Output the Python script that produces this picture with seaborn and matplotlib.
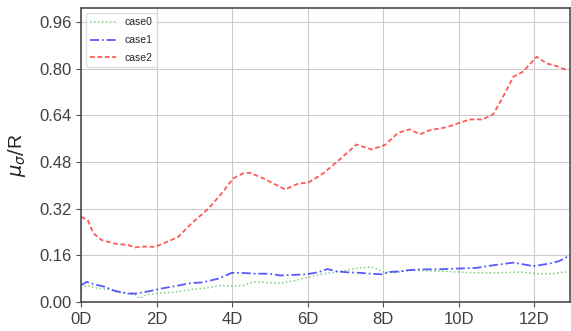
import matplotlib
matplotlib.use("Agg")
import matplotlib.pyplot as plt
import seaborn as sns
import pandas as pd

# case0: dotted green curve
x_case0 = [0.00, 0.15, 0.37, 0.72, 1.08, 1.43, 1.56, 1.74, 2.13, 2.49, 2.93, 3.37,
           3.72, 4.07, 4.29, 4.57, 4.91, 5.26, 5.62, 5.97, 6.32, 6.67, 7.03, 7.38,
           7.69, 8.00, 8.36, 8.66, 9.44, 10.47, 11.08, 11.61, 12.06, 12.50, 12.80, 12.90]
y_case0 = [0.046, 0.057, 0.049, 0.043, 0.031, 0.026, 0.012, 0.025, 0.031, 0.034, 0.043, 0.049,
           0.057, 0.054, 0.057, 0.069, 0.067, 0.064, 0.072, 0.084, 0.094, 0.101, 0.109, 0.117,
           0.120, 0.103, 0.101, 0.109, 0.106, 0.100, 0.100, 0.103, 0.097, 0.097, 0.103, 0.103]

# case1: dash-dot blue curve
x_case1 = [0.00, 0.15, 0.37, 0.63, 0.90, 1.25, 1.46, 1.77, 2.12, 2.47, 2.92, 3.19,
           3.37, 3.63, 3.99, 4.25, 4.60, 5.00, 5.26, 5.62, 5.97, 6.28, 6.52, 6.76,
           7.03, 7.38, 7.65, 7.96, 8.17, 8.44, 8.66, 8.97, 9.44, 10.04, 10.47, 10.91,
           11.44, 11.97, 12.41, 12.67, 12.82, 12.90]
y_case1 = [0.057, 0.069, 0.060, 0.052, 0.038, 0.029, 0.029, 0.036, 0.046, 0.054, 0.065, 0.067,
           0.072, 0.080, 0.100, 0.100, 0.097, 0.097, 0.091, 0.093, 0.095, 0.102, 0.113, 0.105,
           0.102, 0.100, 0.097, 0.095, 0.103, 0.105, 0.109, 0.112, 0.112, 0.115, 0.117, 0.126,
           0.135, 0.123, 0.132, 0.141, 0.152, 0.157]

# case2: dashed red curve
x_case2 = [0.00, 0.18, 0.33, 0.55, 0.90, 1.25, 1.43, 1.61, 1.96, 2.22, 2.57, 2.92,
           3.37, 3.72, 4.03, 4.29, 4.47, 4.82, 5.40, 5.75, 6.01, 6.41, 6.76, 7.29,
           7.69, 8.04, 8.39, 8.70, 8.97, 9.23, 9.67, 10.03, 10.29, 10.64, 10.91, 11.17,
           11.44, 11.70, 12.06, 12.32, 12.58, 12.80, 12.90]
y_case2 = [0.292, 0.280, 0.235, 0.212, 0.200, 0.195, 0.187, 0.190, 0.189, 0.203, 0.223, 0.269,
           0.320, 0.372, 0.424, 0.441, 0.443, 0.424, 0.386, 0.406, 0.409, 0.441, 0.479, 0.540,
           0.523, 0.538, 0.580, 0.592, 0.575, 0.589, 0.599, 0.615, 0.626, 0.626, 0.644, 0.704,
           0.772, 0.790, 0.841, 0.818, 0.809, 0.798, 0.797]

x_ticks = [0, 2, 4, 6, 8, 10, 12]
x_tick_labels = ["0D", "2D", "4D", "6D", "8D", "10D", "12D"]
y_ticks = [0.00, 0.16, 0.32, 0.48, 0.64, 0.80, 0.96]

sns.set_style("whitegrid", {
    "axes.edgecolor": "0.3",
    "grid.color": "0.8",
    "xtick.bottom": True,
    "ytick.left": True,
})
plt.rcParams["font.family"] = ["Liberation Sans", "DejaVu Sans"]
plt.rcParams["xtick.major.size"] = 3.5
plt.rcParams["ytick.major.size"] = 3.5
plt.rcParams["xtick.color"] = "0.3"
plt.rcParams["ytick.color"] = "0.3"

frames = []
for name, xs, ys in [("case0", x_case0, y_case0),
                     ("case1", x_case1, y_case1),
                     ("case2", x_case2, y_case2)]:
    frames.append(pd.DataFrame({"x": xs, "y": ys, "case": name}))
df = pd.concat(frames, ignore_index=True)

fig = plt.figure(figsize=(5.71, 3.31), dpi=100)
ax = fig.add_axes([81 / 571, 29 / 331, 489 / 571, 294 / 331])

styles = {
    "case0": dict(color="#33aa33", linestyle=(0, (1, 1.6)), alpha=0.6, linewidth=1.1),
    "case1": dict(color="#0000ff", linestyle=(0, (5, 1.6, 1, 1.6)), alpha=0.65, linewidth=1.3),
    "case2": dict(color="#ff0000", linestyle=(0, (2.6, 1.5)), alpha=0.65, linewidth=1.3),
}
for name in ["case0", "case1", "case2"]:
    sub = df[df["case"] == name]
    sns.lineplot(data=sub, x="x", y="y", ax=ax, label=name, **styles[name])

ax.set_xlim(0, 12.94)
ax.set_ylim(0, 1.008)
ax.set_xticks(x_ticks)
ax.set_xticklabels(x_tick_labels)
ax.set_yticks(y_ticks)
ax.set_yticklabels([f"{v:.2f}" for v in y_ticks])
ax.tick_params(labelsize=12, colors="0.3", labelcolor="0.25")
ax.set_xlabel("")
ax.set_ylabel(r"$\mu_\sigma/$R", fontsize=14, color="0.15", labelpad=8)
for sp in ax.spines.values():
    sp.set_linewidth(1.2)
    sp.set_color("0.3")

leg = ax.legend(loc="upper left", fontsize=7.5, frameon=True, handlelength=2.5,
                borderaxespad=0.5, labelspacing=0.75)
leg.get_frame().set_edgecolor("0.85")

fig.savefig("out.png", dpi=100)
